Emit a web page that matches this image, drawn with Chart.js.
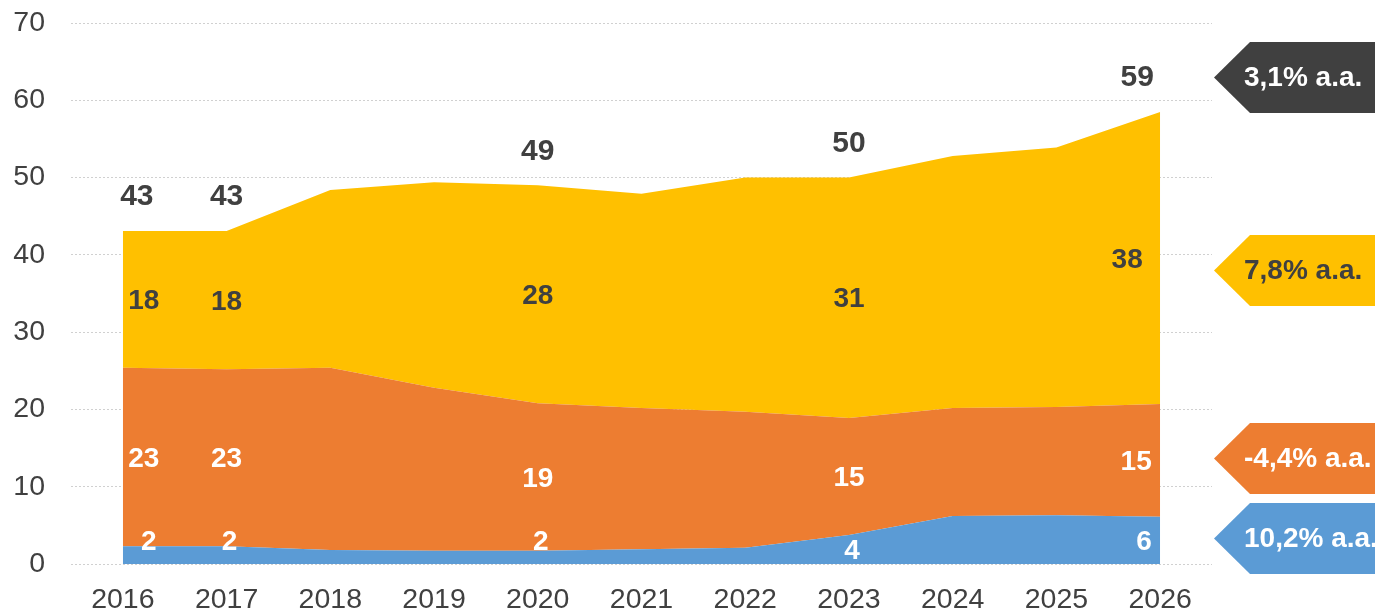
<!DOCTYPE html>
<html>
<head>
<meta charset="utf-8">
<script src="https://cdn.jsdelivr.net/npm/chart.js@4/dist/chart.umd.min.js"></script>
<style>
  html, body { margin: 0; padding: 0; background: #ffffff; }
  #wrap { width: 1375px; height: 611px; position: relative; }
</style>
</head>
<body>
<div id="wrap"><canvas id="c"></canvas></div>
<script>
// ---- data ----
const years = [2016, 2017, 2018, 2019, 2020, 2021, 2022, 2023, 2024, 2025, 2026];
const blueValues   = [2.3, 2.3, 1.8, 1.7, 1.7, 1.9, 2.1, 3.75, 6.2, 6.3, 6.1];
const orangeValues = [23.1, 22.9, 23.6, 21.1, 19.1, 18.3, 17.6, 15.15, 14.0, 14.0, 14.6];
const yellowValues = [17.7, 17.9, 23.0, 26.6, 28.2, 27.7, 30.3, 31.1, 32.6, 33.6, 37.8];
const labeledYears = [2016, 2017, 2020, 2023, 2026];
const yTickValues  = [0, 10, 20, 30, 40, 50, 60, 70];
const cagrLabels   = ['3,1% a.a.', '7,8% a.a.', '-4,4% a.a.', '10,2% a.a.'];

const FONT = '"Liberation Sans", Arial, Helvetica, sans-serif';
const COLORS = { blue: '#5B9BD5', orange: '#ED7D31', yellow: '#FFC000', dark: '#404040' };

const toPoints = vals => years.map((yr, i) => ({ x: yr, y: vals[i] }));

const series = [
  { values: blueValues,   color: COLORS.blue,   labelColor: '#ffffff' },
  { values: orangeValues, color: COLORS.orange, labelColor: '#ffffff' },
  { values: yellowValues, color: COLORS.yellow, labelColor: COLORS.dark }
];

const dataLabelPlugin = {
  id: 'dataLabels',
  afterDatasetsDraw(chart) {
    const ctx = chart.ctx, xs = chart.scales.x, ys = chart.scales.y;
    const firstDx = [26, 21, 21], lastDx = [-16, -24, -33];
    ctx.save();
    ctx.textAlign = 'center';
    ctx.textBaseline = 'middle';
    labeledYears.forEach(yr => {
      const i = years.indexOf(yr);
      const first = i === 0, last = i === years.length - 1;
      const x = xs.getPixelForValue(yr);
      let base = 0;
      ctx.font = 'bold 28px ' + FONT;
      series.forEach((s, k) => {
        const v = s.values[i];
        const yb = ys.getPixelForValue(base), yt = ys.getPixelForValue(base + v);
        let y = (yb + yt) / 2 + 2;
        if (k === 0 && v < 3) y = yb - 22;
        const dx = first ? firstDx[k] : last ? lastDx[k] : (k === 0 ? 3 : 0);
        ctx.fillStyle = s.labelColor;
        ctx.fillText(String(Math.round(v)), x + dx, y);
        base += v;
      });
      const dxT = first ? 14 : last ? -23 : 0;
      ctx.font = 'bold 30px ' + FONT;
      ctx.fillStyle = COLORS.dark;
      ctx.fillText(String(Math.round(base)), x + dxT, ys.getPixelForValue(base) - 34);
    });
    ctx.restore();
  }
};

const badgePlugin = {
  id: 'badges',
  afterDraw(chart) {
    const ctx = chart.ctx;
    const W = chart.width;
    const tops = [42, 235, 423, 503];
    const fills = [COLORS.dark, COLORS.yellow, COLORS.orange, COLORS.blue];
    const textCols = ['#ffffff', COLORS.dark, '#ffffff', '#ffffff'];
    const h = 71, tipX = 1214, rectX = 1250;
    ctx.save();
    cagrLabels.forEach((txt, k) => {
      const t = tops[k], b = t + h, m = (t + b) / 2;
      ctx.beginPath();
      ctx.moveTo(tipX, m);
      ctx.lineTo(rectX, t);
      ctx.lineTo(W, t);
      ctx.lineTo(W, b);
      ctx.lineTo(rectX, b);
      ctx.closePath();
      ctx.fillStyle = fills[k];
      ctx.fill();
      ctx.font = 'bold 28px ' + FONT;
      ctx.textAlign = 'left';
      ctx.textBaseline = 'middle';
      ctx.fillStyle = textCols[k];
      ctx.fillText(txt, 1244, m + 1);
    });
    ctx.restore();
  }
};

new Chart(document.getElementById('c'), {
  type: 'line',
  data: {
    datasets: series.map((s, k) => ({
      data: toPoints(s.values),
      backgroundColor: s.color,
      borderColor: s.color,
      borderWidth: 0,
      pointRadius: 0,
      pointHoverRadius: 0,
      tension: 0,
      fill: k === 0 ? 'origin' : '-1'
    }))
  },
  options: {
    responsive: true,
    maintainAspectRatio: false,
    animation: false,
    events: [],
    layout: { padding: { left: 0, right: 163, top: 23, bottom: 0 } },
    plugins: { legend: { display: false }, tooltip: { enabled: false } },
    scales: {
      x: {
        type: 'linear',
        min: 2015.5,
        max: 2026.5,
        afterBuildTicks: scale => { scale.ticks = years.map(v => ({ value: v })); },
        afterFit: scale => { scale.height = 47; scale.paddingLeft = 0; scale.paddingRight = 0; },
        grid: { display: false, drawTicks: false },
        border: { display: false },
        ticks: {
          padding: 19,
          color: COLORS.dark,
          font: { family: FONT, size: 28.5 },
          maxRotation: 0,
          autoSkip: false,
          callback: v => String(v)
        }
      },
      y: {
        stacked: true,
        min: 0,
        max: 70,
        afterBuildTicks: scale => { scale.ticks = yTickValues.map(v => ({ value: v })); },
        afterFit: scale => { scale.width = 71; scale.paddingTop = 0; scale.paddingBottom = 0; },
        grid: { color: '#d0d0d0', lineWidth: 1, drawTicks: false },
        border: { display: false, dash: [2, 2] },
        ticks: {
          padding: 26,
          color: COLORS.dark,
          font: { family: FONT, size: 28.5 },
          callback: v => String(v)
        }
      }
    }
  },
  plugins: [dataLabelPlugin, badgePlugin]
});
</script>
</body>
</html>
